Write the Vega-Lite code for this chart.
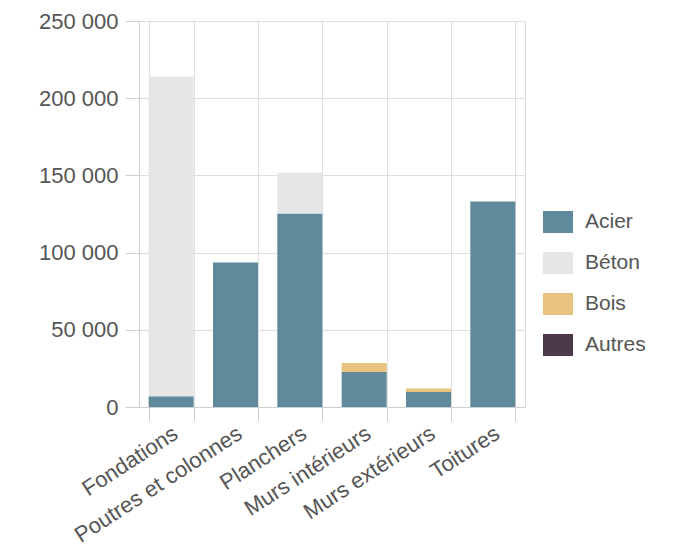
{
  "$schema": "https://vega.github.io/schema/vega-lite/v6.json",
  "width": 386,
  "height": 386,
  "autosize": {"type": "none"},
  "padding": {"left": 139, "top": 21, "right": 158, "bottom": 148},
  "background": "white",
  "config": {
    "locale": {"number": {"decimal": ",", "thousands": "\u00a0", "grouping": [3], "currency": ["", " €"]}},
    "font": "Liberation Sans",
    "view": {"stroke": "#dcdcdc"},
    "axis": {
      "labelFont": "Liberation Sans",
      "labelFontSize": 22,
      "labelColor": "#555555",
      "gridColor": "#dedede",
      "domainColor": "#cfcfcf",
      "tickColor": "#cfcfcf",
      "title": null
    },
    "legend": {"labelFont": "Liberation Sans", "labelFontSize": 21, "labelColor": "#555555"}
  },
  "data": {
    "values": [
      {"element": "Fondations", "materiau": "Acier", "tonnes": 7000},
      {"element": "Fondations", "materiau": "Béton", "tonnes": 207000},
      {"element": "Poutres et colonnes", "materiau": "Acier", "tonnes": 93600},
      {"element": "Planchers", "materiau": "Acier", "tonnes": 125400},
      {"element": "Planchers", "materiau": "Béton", "tonnes": 26300},
      {"element": "Murs intérieurs", "materiau": "Acier", "tonnes": 22700},
      {"element": "Murs intérieurs", "materiau": "Bois", "tonnes": 5800},
      {"element": "Murs extérieurs", "materiau": "Acier", "tonnes": 9700},
      {"element": "Murs extérieurs", "materiau": "Bois", "tonnes": 2300},
      {"element": "Toitures", "materiau": "Acier", "tonnes": 133100},
      {"element": "Toitures", "materiau": "Autres", "tonnes": 0}
    ]
  },
  "mark": {"type": "bar"},
  "encoding": {
    "x": {
      "field": "element",
      "type": "nominal",
      "sort": ["Fondations", "Poutres et colonnes", "Planchers", "Murs intérieurs", "Murs extérieurs", "Toitures"],
      "scale": {"paddingInner": 0.3, "paddingOuter": 0.15},
      "axis": {"labelAngle": -33, "labelAlign": "right", "labelBaseline": "middle", "labelLimit": 0, "tickBand": "extent", "grid": true, "tickSize": 14, "labelPadding": 10, "labelOffset": 4}
    },
    "y": {
      "field": "tonnes",
      "type": "quantitative",
      "aggregate": "sum",
      "scale": {"domain": [0, 250000]},
      "axis": {"values": [0, 50000, 100000, 150000, 200000, 250000], "format": ",.0f", "tickSize": 14, "labelPadding": 7, "grid": true}
    },
    "order": {"field": "materiau", "sort": "ascending"},
    "color": {
      "field": "materiau",
      "type": "nominal",
      "sort": ["Acier", "Béton", "Bois", "Autres"],
      "scale": {"domain": ["Acier", "Béton", "Bois", "Autres"], "range": ["#608a9b", "#e6e6e6", "#e9c27f", "#4c3a4a"]},
      "legend": {"title": null, "orient": "none", "legendX": 408, "legendY": 190, "symbolType": "M-1.364,-1L1.364,-1L1.364,1L-1.364,1Z", "symbolSize": 484, "symbolStrokeWidth": 0, "rowPadding": 19, "labelOffset": 16}
    }
  }
}
